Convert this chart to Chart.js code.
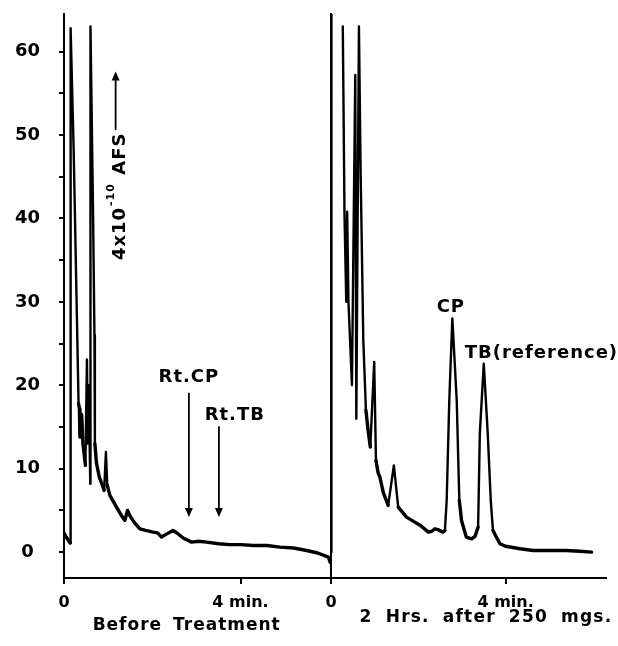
<!DOCTYPE html>
<html>
<head>
<meta charset="utf-8">
<script src="https://cdn.jsdelivr.net/npm/chart.js@4.4.1/dist/chart.umd.min.js"></script>
<style>
  html, body { margin: 0; padding: 0; background: #fff; }
  #wrap { position: relative; width: 618px; height: 646px; }
  canvas { position: absolute; top: 0; }
  #leftChart { left: 0; }
  #rightChart { left: 300px; }
</style>
</head>
<body>
<div id="wrap">
  <canvas id="leftChart" width="340" height="646"></canvas>
  <canvas id="rightChart" width="318" height="646"></canvas>
</div>
<script>
// time (min) and detector response
const beforeTime = [0.00, 0.04, 0.14, 0.15, 0.22, 0.30, 0.33, 0.35, 0.36, 0.40, 0.43, 0.485, 0.52, 0.54, 0.56, 0.595, 0.60, 0.66, 0.69, 0.70,
  0.735, 0.80, 0.85, 0.91, 0.95, 0.98, 1.04, 1.19, 1.30, 1.38, 1.44, 1.50, 1.60, 1.72, 1.85, 2.02, 2.12, 2.21, 2.30, 2.47,
  2.56, 2.70, 2.89, 3.05, 3.23, 3.50, 3.76, 4.00, 4.29, 4.60, 4.89, 5.20, 5.50, 5.75, 5.99, 6.03];
const beforeSignal = [2.3, 1.9, 1.1, 62.8, 48, 26, 17.8, 17.2, 13.8, 16.5, 13.0, 10.4, 23.1, 13, 20, 8.2, 63.0, 40, 26, 13,
  10.7, 9.0, 8.3, 7.4, 12.0, 8.0, 6.8, 5.4, 4.4, 3.8, 5.0, 4.3, 3.5, 2.8, 2.6, 2.4, 2.3, 1.8, 2.1, 2.6,
  2.3, 1.7, 1.2, 1.3, 1.2, 1.0, 0.9, 0.9, 0.8, 0.8, 0.6, 0.5, 0.2, -0.1, -0.6, -1.2];

// pen goes off scale right after injection (null = off the chart)
const afterTime = [0.00, 0.01, 0.10, 0.27, 0.31, 0.35, 0.37, 0.40, 0.48, 0.556, 0.58, 0.64, 0.68, 0.70, 0.74, 0.80, 0.85, 0.90, 0.99, 1.03,
  1.08, 1.12, 1.20, 1.31, 1.44, 1.54, 1.73, 1.92, 2.05, 2.23, 2.31, 2.38, 2.45, 2.57, 2.61, 2.65, 2.71, 2.78, 2.88, 2.94,
  2.99, 3.10, 3.22, 3.30, 3.37, 3.41, 3.50, 3.59, 3.66, 3.71, 3.87, 4.00, 4.33, 4.63, 5.00, 5.39, 5.70, 5.97];
const afterSignal = [0.0, 70, null, 63, 40.2, 30.0, 40.8, 30, 20.0, 57.2, 16.0, 63, 45, 38.6, 25.4, 17.0, 14.6, 12.6, 22.8, 11.0,
  9.5, 9.0, 7.1, 5.6, 10.4, 5.4, 4.2, 3.6, 3.2, 2.4, 2.5, 2.8, 2.7, 2.4, 2.6, 6.2, 18.2, 28.0, 18.2, 6.2,
  3.8, 1.8, 1.6, 1.9, 3.0, 14.3, 22.6, 14.3, 6.2, 2.6, 1.0, 0.7, 0.4, 0.2, 0.2, 0.2, 0.1, 0.0];

const yTickValues = [0, 5, 10, 15, 20, 25, 30, 35, 40, 45, 50, 55, 60];
const xTickValues = [0, 4];
const xTickLabels = ['0', '4 min.'];
const panelTitles = ['Before Treatment', '2 Hrs. after 250 mgs.'];

const FONT = "'DejaVu Sans', sans-serif";
Chart.defaults.font.family = FONT;
Chart.defaults.color = '#000';

const toPoints = (xs, ys) => xs.map((x, i) => ({ x: x, y: ys[i] }));

// text + arrows drawn in data units of each panel
const notesPlugin = {
  id: 'notes',
  afterDraw(chart, args, opts) {
    const ctx = chart.ctx;
    const xs = chart.scales.x, ys = chart.scales.y;
    const area = chart.chartArea;
    ctx.save();
    ctx.fillStyle = '#000';
    ctx.strokeStyle = '#000';
    ctx.letterSpacing = '1px';

    (opts.labels || []).forEach(l => {
      ctx.font = 'bold 18px ' + FONT;
      ctx.textAlign = l.align || 'center';
      ctx.textBaseline = 'alphabetic';
      ctx.fillText(l.text, xs.getPixelForValue(l.x), ys.getPixelForValue(l.y));
    });

    (opts.arrows || []).forEach(a => {
      const x = xs.getPixelForValue(a.x);
      const y0 = ys.getPixelForValue(a.from);
      const y1 = ys.getPixelForValue(a.to);
      const dir = y1 > y0 ? 1 : -1;
      ctx.lineWidth = 1.8;
      ctx.beginPath();
      ctx.moveTo(x, y0);
      ctx.lineTo(x, y1 - dir * 6);
      ctx.stroke();
      ctx.beginPath();
      ctx.moveTo(x, y1);
      ctx.lineTo(x - 4, y1 - dir * 9);
      ctx.lineTo(x + 4, y1 - dir * 9);
      ctx.closePath();
      ctx.fill();
    });

    if (opts.afs) {
      const a = opts.afs;
      ctx.translate(xs.getPixelForValue(a.x), ys.getPixelForValue(a.y));
      ctx.rotate(-Math.PI / 2);
      ctx.textAlign = 'left';
      ctx.textBaseline = 'alphabetic';
      ctx.font = 'bold 18px ' + FONT;
      ctx.fillText('4x10', 0, 0);
      let w = ctx.measureText('4x10').width;
      ctx.font = 'bold 11px ' + FONT;
      ctx.fillText('-10', w + 1, -11);
      w += ctx.measureText('-10').width + 2;
      ctx.font = 'bold 18px ' + FONT;
      ctx.fillText(' AFS', w, 0);
      ctx.setTransform(1, 0, 0, 1, 0, 0);
    }

    if (opts.caption) {
      const c = opts.caption;
      ctx.font = 'bold 17px ' + FONT;
      ctx.letterSpacing = c.spacing;
      ctx.wordSpacing = c.wordSpacing;
      ctx.textAlign = 'center';
      ctx.textBaseline = 'middle';
      ctx.fillText(c.text, xs.getPixelForValue(c.x), area.bottom + c.dy);
    }
    ctx.restore();
  }
};

function traceDataset(points) {
  return {
    data: points,
    borderColor: '#000',
    borderWidth: 3.4,
    borderCapStyle: 'round',
    borderJoinStyle: 'round',
    pointRadius: 0,
    tension: 0,
    spanGaps: false,
    segment: {
      // pen strokes on the steep spikes come out thinner than the baseline
      borderWidth: c => Math.abs(c.p1.y - c.p0.y) > 30 ? 2.4 : 3.4,
      borderCapStyle: 'round'
    }
  };
}

function panelOptions(xMax, yAxisWidth, padRight, showY, notes) {
  return {
    responsive: false,
    animation: false,
    layout: { padding: { top: 14, right: padRight, left: 0, bottom: 0 } },
    plugins: { legend: { display: false }, tooltip: { enabled: false }, notes: notes },
    scales: {
      x: {
        type: 'linear', min: 0, max: xMax,
        afterFit: s => { s.height = 68; s.paddingLeft = 0; s.paddingRight = 0; },
        afterBuildTicks: s => { s.ticks = xTickValues.map(v => ({ value: v })); },
        grid: { drawOnChartArea: false, drawTicks: true, tickLength: 6, color: '#000', lineWidth: 2 },
        border: { display: true, color: '#000', width: 2 },
        ticks: {
          padding: 9, maxRotation: 0, autoSkip: false,
          font: { size: 16, weight: 'bold' },
          callback: (v, i) => xTickLabels[i]
        }
      },
      y: {
        type: 'linear', min: -3.1, max: 64.5,
        afterFit: s => { s.width = yAxisWidth; s.paddingTop = 0; s.paddingBottom = 0; },
        afterBuildTicks: s => { s.ticks = yTickValues.map(v => ({ value: v })); },
        grid: { drawOnChartArea: false, drawTicks: showY, tickLength: 5, color: '#000', lineWidth: 2 },
        border: { display: true, color: '#000', width: 2 },
        ticks: {
          display: showY, padding: 19, crossAlign: 'center', autoSkip: false,
          font: { size: 18, weight: 'bold' },
          callback: v => v % 10 === 0 ? String(v) : ''
        }
      }
    }
  };
}

new Chart(document.getElementById('leftChart'), {
  type: 'line',
  data: { datasets: [traceDataset(toPoints(beforeTime, beforeSignal))] },
  options: panelOptions(6.05, 64, 9, true, {
    labels: [
      { text: 'Rt.CP', x: 2.83, y: 20.4 },
      { text: 'Rt.TB', x: 3.87, y: 15.8 }
    ],
    arrows: [
      { x: 2.83, from: 19.1, to: 4.2 },
      { x: 3.51, from: 15.1, to: 4.2 },
      { x: 1.17, from: 50.6, to: 57.6 }
    ],
    afs: { x: 1.376, y: 35.0 },
    caption: { text: panelTitles[0], x: 2.78, dy: 48, spacing: '1px', wordSpacing: '4px' }
  }),
  plugins: [notesPlugin]
});

new Chart(document.getElementById('rightChart'), {
  type: 'line',
  data: { datasets: [traceDataset(toPoints(afterTime, afterSignal))] },
  options: panelOptions(6.3, 31, 12, false, {
    labels: [
      { text: 'CP', x: 2.746, y: 28.8 },
      { text: 'TB(reference)', x: 4.82, y: 23.3 }
    ],
    caption: { text: panelTitles[1], x: 3.55, dy: 40, spacing: '1.2px', wordSpacing: '6px' }
  }),
  plugins: [notesPlugin]
});
</script>
</body>
</html>
